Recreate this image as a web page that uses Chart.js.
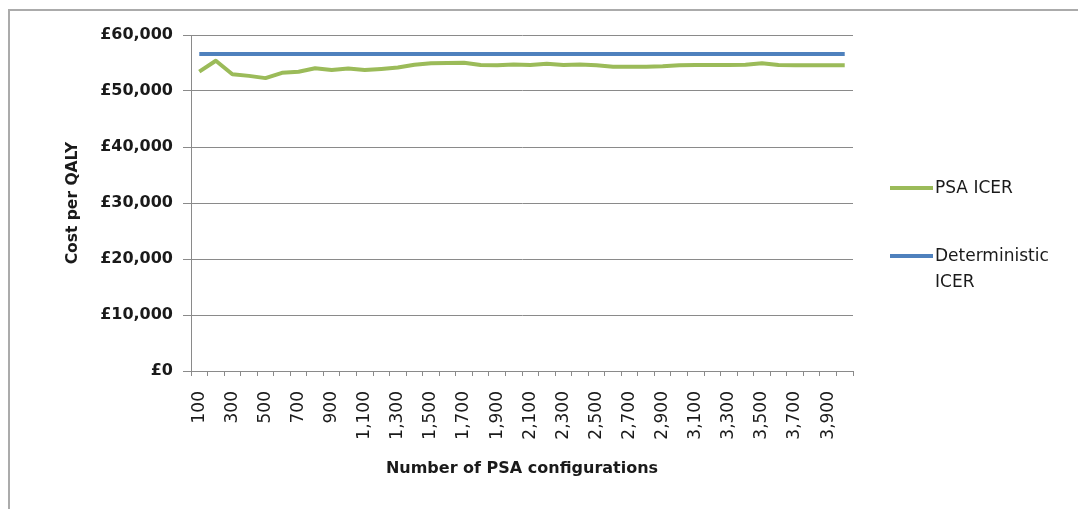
<!DOCTYPE html>
<html>
<head>
<meta charset="utf-8">
<title>PSA ICER convergence</title>
<script src="https://cdn.jsdelivr.net/npm/chart.js@4.4.1/dist/chart.umd.min.js"></script>
<style>
  html, body { margin: 0; padding: 0; background: #ffffff; }
  #wrap { position: relative; width: 1078px; height: 509px; overflow: hidden; }
  #frame { position: absolute; left: 8px; top: 9px; right: -4px; bottom: -4px;
           border-top: 2px solid #ababab; border-left: 2px solid #ababab; pointer-events: none; }
  canvas { position: absolute; left: 0; top: 0; }
</style>
</head>
<body>
<div id="wrap">
  <canvas id="chart" width="1078" height="509"></canvas>
  <div id="frame"></div>
</div>
<script>
// Number of PSA configurations run
const configurations = [100, 200, 300, 400, 500, 600, 700, 800, 900, 1000,
  1100, 1200, 1300, 1400, 1500, 1600, 1700, 1800, 1900, 2000,
  2100, 2200, 2300, 2400, 2500, 2600, 2700, 2800, 2900, 3000,
  3100, 3200, 3300, 3400, 3500, 3600, 3700, 3800, 3900, 4000];

// Mean ICER from the probabilistic analysis (£ per QALY)
const psaIcer = [53450, 55400, 53000, 52700, 52300, 53250, 53450, 54050, 53750, 54000,
  53750, 53950, 54200, 54700, 54950, 55000, 55050, 54650, 54600, 54750,
  54650, 54850, 54650, 54750, 54600, 54350, 54350, 54350, 54400, 54600,
  54650, 54650, 54650, 54700, 54950, 54650, 54600, 54600, 54600, 54600];

// Deterministic base-case ICER (£ per QALY)
const deterministicIcer = [56600, 56600, 56600, 56600, 56600, 56600, 56600, 56600, 56600, 56600,
  56600, 56600, 56600, 56600, 56600, 56600, 56600, 56600, 56600, 56600,
  56600, 56600, 56600, 56600, 56600, 56600, 56600, 56600, 56600, 56600,
  56600, 56600, 56600, 56600, 56600, 56600, 56600, 56600, 56600, 56600];

// Value axis ticks
const yTicks = [0, 10000, 20000, 30000, 40000, 50000, 60000];

const seriesNames = ['PSA ICER', ['Deterministic', 'ICER']];
const seriesColours = ['#9bbb59', '#4f81bd'];

function withThousands(n) {
  return String(n).replace(/\B(?=(\d{3})+(?!\d))/g, ',');
}

const GRID = '#8a8a8a';
const TEXT = '#1a1a1a';

// Legend drawn to the right of the plot, one entry per dataset
const sideLegend = {
  id: 'sideLegend',
  afterDraw(chart) {
    const ctx = chart.ctx;
    const rows = [
      { line: 188, text: [189] },
      { line: 256, text: [257, 283] }
    ];
    ctx.save();
    chart.data.datasets.forEach((ds, i) => {
      const r = rows[i];
      ctx.strokeStyle = ds.borderColor;
      ctx.lineWidth = 4;
      ctx.lineCap = 'butt';
      ctx.beginPath();
      ctx.moveTo(890, r.line);
      ctx.lineTo(933, r.line);
      ctx.stroke();
      ctx.fillStyle = TEXT;
      ctx.font = '17px "DejaVu Sans"';
      ctx.textBaseline = 'middle';
      ctx.textAlign = 'left';
      const lines = Array.isArray(ds.legendText) ? ds.legendText : [ds.legendText];
      lines.forEach((t, k) => ctx.fillText(t, 935, r.text[k]));
    });
    ctx.restore();
  }
};

new Chart(document.getElementById('chart'), {
  type: 'line',
  data: {
    labels: configurations,
    datasets: [
      {
        label: 'PSA ICER',
        legendText: seriesNames[0],
        data: psaIcer,
        borderColor: seriesColours[0],
        backgroundColor: seriesColours[0],
        borderWidth: 4,
        pointRadius: 0,
        tension: 0,
        borderJoinStyle: 'round',
        order: 2
      },
      {
        label: 'Deterministic ICER',
        legendText: seriesNames[1],
        data: deterministicIcer,
        borderColor: seriesColours[1],
        backgroundColor: seriesColours[1],
        borderWidth: 4,
        pointRadius: 0,
        tension: 0,
        order: 1
      }
    ]
  },
  options: {
    responsive: false,
    animation: false,
    devicePixelRatio: 1,
    layout: { padding: { left: 0, top: 35, right: 225, bottom: 0 } },
    plugins: {
      legend: { display: false },
      tooltip: { enabled: false }
    },
    scales: {
      x: {
        type: 'category',
        offset: true,
        afterFit(scale) { scale.height = 138; },
        grid: {
          display: true,
          drawOnChartArea: false,
          offset: true,
          color: GRID,
          tickLength: 5,
          tickColor: GRID
        },
        border: { display: true, color: GRID, width: 1 },
        ticks: {
          autoSkip: false,
          minRotation: 90,
          maxRotation: 90,
          padding: 15,
          color: TEXT,
          font: { family: '"DejaVu Sans"', size: 17 },
          callback(value, index) {
            return index % 2 === 0 ? withThousands(configurations[index]) : '';
          }
        },
        title: {
          display: true,
          text: 'Number of PSA configurations',
          color: TEXT,
          font: { family: '"DejaVu Sans"', size: 16, weight: 'bold' },
          padding: { top: 0, bottom: 31 }
        }
      },
      y: {
        min: yTicks[0],
        max: yTicks[yTicks.length - 1],
        afterFit(scale) { scale.width = 191; },
        afterBuildTicks(scale) { scale.ticks = yTicks.map(v => ({ value: v })); },
        grid: {
          color: GRID,
          tickLength: 8,
          tickColor: GRID
        },
        border: { display: true, color: GRID, width: 1 },
        ticks: {
          padding: 10,
          color: TEXT,
          font: { family: '"DejaVu Sans"', size: 16, weight: 'bold' },
          callback(value) { return '£' + withThousands(value); }
        },
        title: {
          display: true,
          text: 'Cost per QALY',
          color: TEXT,
          font: { family: '"DejaVu Sans"', size: 15.5, weight: 'bold' },
          padding: { top: 64, bottom: 0 }
        }
      }
    }
  },
  plugins: [sideLegend]
});
</script>
</body>
</html>
